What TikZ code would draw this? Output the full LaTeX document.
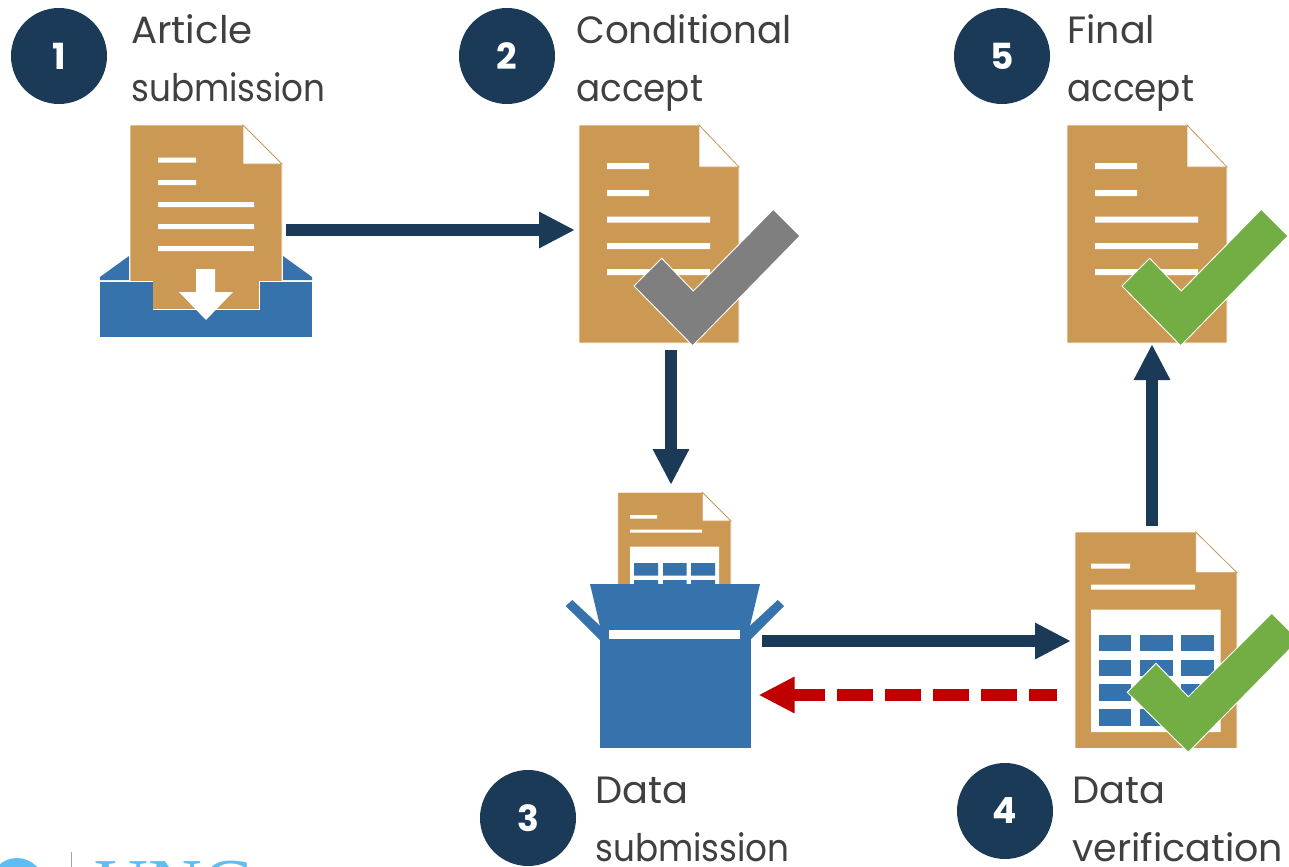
\documentclass[tikz,border=0pt]{standalone}
\usepackage{fontspec}
\setmainfont{Poppins}
\usetikzlibrary{arrows.meta}
\definecolor{navy}{HTML}{1B3A57}
\definecolor{tan}{HTML}{CC9955}
\definecolor{boxblue}{HTML}{3673AD}
\definecolor{okgreen}{HTML}{72AE43}
\definecolor{midgray}{HTML}{7F7F7F}
\definecolor{redline}{HTML}{C00000}
\definecolor{inkgray}{HTML}{404040}
\definecolor{logoblue}{HTML}{5FBDF2}
\newcommand{\sq}[2]{{\addfontfeatures{FakeStretch=#1}#2}}
\tikzset{
 x=0.75pt,y=-0.75pt,
 badge/.style={circle,fill=navy,text=white,minimum size=72pt,inner sep=0pt,font=\fontsize{27}{27}\selectfont\bfseries},
 caption/.style={anchor=north west,inner sep=0pt,align=left,text=inkgray,font=\fontsize{28.5}{43.5}\selectfont},
 flow/.style={draw=navy,line width=9pt,-{Triangle[length=27pt,width=25.5pt]}},
 back/.style={draw=redline,line width=9pt,-{Triangle[length=27pt,width=25.5pt]},dash pattern=on 27pt off 9pt,dash phase=6pt},
 paper/.style={fill=tan,draw=white,line width=.5pt},
 corner/.style={fill=white,draw=tan,line width=.6pt},
 cell/.style={fill=boxblue,draw=white,line width=.3pt},
 blue/.style={fill=boxblue},
 tick/.style={draw=white,line width=.7pt},
}
\newcommand{\bigpage}[1]{%
 \begin{scope}[xshift=#1*0.75pt]
  \path[paper] (579,125) -- (699,125) -- (739,167) -- (739,343) -- (579,343) -- cycle;
  \path[corner] (699,125) -- (739,167) -- (699,167) -- cycle;
  \fill[white] (607,163) rectangle (649,169) (607,190) rectangle (649,196)
   (607,216.5) rectangle (710,222.5) (607,243) rectangle (710,249) (607,269) rectangle (710,275);
 \end{scope}}
\newcommand{\bigcheck}[2]{%
 \begin{scope}[xshift=#1*0.75pt]
  \path[tick,fill=#2] (634,286) -- (661.7,258.3) -- (693.3,291) -- (773.3,209.3) -- (800,236) -- (692.7,345.7) -- cycle;
 \end{scope}}
\begin{document}
\begin{tikzpicture}
\useasboundingbox (0,0) rectangle (1289,867);
\clip (0,0) rectangle (1289,867);
% ---- logo remnant
\fill[logoblue] (17,885) circle (27);
\fill[white] (17,892) circle (24);
\draw[color=black!35,line width=.6pt] (71,852) -- (71,870);
\node[anchor=base west,inner sep=0pt,text=logoblue,font=\fontsize{56}{56}\selectfont\setmainfont{Liberation Serif}] (logo) at (94,910) {UNC};
% ---- inbox + doc 1
\path[blue] (100,277) -- (129,256) -- (129,280) -- (100,280) -- cycle;
\path[blue] (312,277) -- (283,256) -- (283,280) -- (312,280) -- cycle;
\path[paper] (130,125) -- (243,125) -- (282,164) -- (282,282) -- (130,282) -- cycle;
\path[corner] (243,125) -- (282,164) -- (243,164) -- cycle;
\fill[white] (158,157.5) rectangle (196,162.5) (158,180) rectangle (196,185)
 (158,202) rectangle (254,207) (158,224) rectangle (254,229) (158,246) rectangle (254,251);
\fill[boxblue] (100,281) -- (312,281) -- (312,337) -- (100,337) -- cycle;
\draw[white,line width=.5pt] (100,281) -- (153,281) -- (153,309) -- (259,309) -- (259,281) -- (312,281);
\fill[tan] (153.3,275) rectangle (258.7,308.7);
\fill[white] (196,269) -- (215,269) -- (215,292) -- (233,292) -- (206,320) -- (179,292) -- (196,292) -- cycle;
% ---- doc 2, 5
\bigpage{0}
\bigcheck{0}{midgray}
\bigpage{488}
\bigcheck{488}{okgreen}
% ---- doc 3 in box
\path[paper] (617.7,492.3) -- (702.3,492.3) -- (731,521) -- (731,600) -- (617.7,600) -- cycle;
\path[corner] (702.3,492.3) -- (731,521) -- (702.3,521) -- cycle;
\fill[white] (630,515) rectangle (657,518.5) (630,529.5) rectangle (702,532.5) (630,546.7) rectangle (719,600);
\fill[boxblue] (634,563) rectangle (658,575.5) (663,563) rectangle (686.5,575.5) (691,563) rectangle (715,575.5)
 (634,580) rectangle (658,590) (663,580) rectangle (686.5,590) (691,580) rectangle (715,590);
\path[blue] (590,584) -- (760,584) -- (750,626) -- (750,640) -- (600,640) -- (600,626) -- cycle;
\path[blue] (565.7,606) -- (572.3,600) -- (600,625.7) -- (600,640) -- cycle;
\path[blue] (784,606) -- (777.7,600) -- (750,625.7) -- (750,640) -- cycle;
\fill[boxblue] (600,639) rectangle (750.5,747.7);
\fill[white] (609,630) rectangle (740,639);
% ---- doc 4
\path[paper] (1075,532) -- (1195.7,532) -- (1237,572.7) -- (1237,748.5) -- (1075,748.5) -- cycle;
\path[corner] (1195.7,532) -- (1237,572.7) -- (1195.7,572.7) -- cycle;
\fill[white] (1091,563.5) rectangle (1130,568.5) (1091,584.5) rectangle (1195,589.5) (1091,609.5) rectangle (1220.5,732);
\foreach \xa/\xb in {1097.7/1131.5,1139/1173,1180/1214}
 \foreach \ya/\yb in {634/651.5,659/676,683.5/701,708/726}
  \path[cell] (\xa,\ya) rectangle (\xb,\yb);
\path[tick,fill=okgreen] (1127.3,692.3) -- (1156,663.3) -- (1188.3,696.7) -- (1271.7,613.3) -- (1298.7,640) -- (1188.3,752.3) -- cycle;
% ---- connector ends
\coordinate (doc1out) at (286,230);
\coordinate (doc2in) at (575,230);
\coordinate (doc2out) at (671,350);
\coordinate (boxin) at (671,485);
\coordinate (boxout) at (762,641);
\coordinate (doc4in) at (1071,641);
\coordinate (doc4back) at (1057,695);
\coordinate (boxback) at (758.5,695);
\coordinate (doc4up) at (1152,526);
\coordinate (doc5in) at (1152,344);
\draw[flow] (doc1out) -- (doc2in);
\draw[flow] (doc2out) -- (boxin);
\draw[flow] (boxout) -- (doc4in);
\draw[flow] (doc4up) -- (doc5in);
\draw[back] (doc4back) -- (boxback);
% ---- badges and captions
\node[badge] (b1) at (59,56) {1};
\node[badge] (b2) at (507,56) {2};
\node[badge] (b5) at (1002,56) {5};
\node[badge] (b3) at (528,818) {3};
\node[badge] (b4) at (1005,811) {4};
\node[caption] (t1) at (131,14) {\sq{1.02}{Article}\\\sq{0.9}{submission}};
\node[caption] (t2) at (576,14) {\sq{0.98}{Conditional}\\\sq{0.94}{accept}};
\node[caption] (t5) at (1067,14) {Final\\\sq{0.94}{accept}};
\node[caption] (t3) at (595,777) {\sq{1.01}{Data}\\\sq{0.9}{submission}};
\node[caption] (t4) at (1072,777) {\sq{1.01}{Data}\\verification};
\end{tikzpicture}
\end{document}
